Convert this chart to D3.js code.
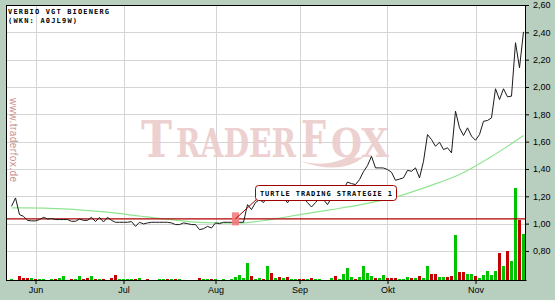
<!DOCTYPE html>
<html>
<head>
<meta charset="utf-8">
<script src="https://cdn.jsdelivr.net/npm/d3@7"></script>
<style>
  body { margin: 0; background: #b8cfbf; }
  svg { display: block; }
</style>
</head>
<body>
<svg id="chart"></svg>
<script>
// daily closes (one per trading day)
const closes = [
    1.127, 1.188, 1.066, 1.053, 1.024, 1.020, 1.020, 1.030, 1.046, 1.034,
    1.037, 1.030, 1.030, 1.030, 1.030, 1.017, 1.017, 1.034, 1.024, 1.024,
    1.046, 1.015, 1.046, 1.012, 1.046, 1.024, 1.010, 1.010, 1.010, 1.010,
    1.015, 0.980, 1.010, 0.998, 1.005, 1.010, 1.010, 1.010, 1.010, 1.010,
    1.005, 0.993, 0.993, 1.005, 1.000, 0.993, 0.993, 0.956, 0.963, 0.980,
    0.968, 1.005, 1.000, 1.010, 1.010, 1.010, 1.010, 1.010, 1.010, 1.139,
    1.103, 1.154, 1.176, 1.154, 1.198, 1.183, 1.227, 1.205, 1.190, 1.152,
    1.198, 1.234, 1.212, 1.190, 1.154, 1.122, 1.154, 1.190, 1.176, 1.139,
    1.190, 1.212, 1.234, 1.249, 1.304, 1.293, 1.286, 1.322, 1.381, 1.425,
    1.493, 1.408, 1.408, 1.407, 1.396, 1.376, 1.317, 1.326, 1.335, 1.390,
    1.383, 1.408, 1.335, 1.456, 1.652, 1.615, 1.566, 1.596, 1.542, 1.555,
    1.518, 1.823, 1.701, 1.645, 1.701, 1.640, 1.610, 1.652, 1.749, 1.755,
    1.774, 1.987, 1.908, 1.987, 1.928, 1.933, 2.324, 2.141, 2.404
];

// volume per day and colour (g = up, r = down)
const volumes = [
    1, 0, 4, 2, 2, 2, 1, 1, 1, 0,
    1, 1, 2, 4, 0, 1, 1, 4, 1, 2,
    4, 1, 1, 1, 0, 2, 5, 1, 1, 1,
    1, 1, 2, 0, 1, 0, 0, 1, 1, 1,
    1, 1, 1, 0, 0, 0, 0, 2, 1, 1,
    1, 1, 0, 1, 0, 1, 3, 5, 2, 17,
    4, 1, 2, 1, 14, 7, 2, 3, 2, 3,
    1, 1, 1, 1, 1, 2, 1, 1, 0, 0,
    2, 4, 1, 6, 12, 3, 1, 3, 14, 7,
    4, 2, 2, 5, 2, 2, 2, 1, 1, 3,
    2, 2, 4, 2, 14, 6, 6, 3, 3, 3,
    4, 45, 8, 8, 6, 6, 4, 2, 5, 9,
    5, 9, 27, 14, 29, 19, 92, 60, 46
];
const volDir = (
    "g-rrrgrgg-" + "grgg-rggrr" + "grgr-rrggg" + "grg-r--ggr" + "grg----rgg" +
    "rg-g-ggggg" + "rggrgrgrgr" + "ggrrgrgg--" + "grggggrggg" + "grggrrrggg" +
    "rgrggrrggr" + "rgrrggrggg" + "ggrgrggrg"
).split('');

// moving average, read at a few days
const maIdx = [0, 8, 16, 24, 32, 40, 48, 56, 64, 72, 80, 88, 96, 104, 112, 120, 128];
const maVal = [1.115, 1.114, 1.103, 1.084, 1.056, 1.029, 1.007, 1.004, 1.026, 1.066,
               1.103, 1.143, 1.194, 1.271, 1.359, 1.491, 1.645];

const monthLabels = ['Jun', 'Jul', 'Aug', 'Sep', 'Okt', 'Nov'];
const monthIdx = [6, 28, 51, 72, 94, 116];
const yTicks = [0.8, 1.0, 1.2, 1.4, 1.6, 1.8, 2.0, 2.2, 2.4, 2.6];

const signalIdx = 56;
const signalLevel = 1.035;
const signalText = 'TURTLE TRADING STRATEGIE 1';
const titleLines = ['VERBIO VGT BIOENERG', '(WKN: A0JL9W)'];

const W = 555, H = 300;
const plot = { left: 6, right: 526, top: 5, bottom: 280 };
const pixelFont = "'DejaVu Sans Mono', monospace";

const svg = d3.select('#chart').attr('width', W).attr('height', H);

svg.append('rect').attr('width', W).attr('height', H).attr('fill', '#b8cfbf');
svg.append('rect')
    .attr('x', plot.left).attr('y', plot.top)
    .attr('width', plot.right - plot.left).attr('height', plot.bottom - plot.top)
    .attr('fill', '#fff');

const x = d3.scaleLinear().domain([-1.375, closes.length - 0.375]).range([plot.left, plot.right]);
const y = d3.scaleLinear().domain([0.5875, 2.6]).range([plot.bottom, plot.top]);
const yVol = d3.scaleLinear().domain([0, 100]).range([plot.bottom, plot.bottom - 100]);

// grid
const grid = svg.append('g').attr('stroke', '#d4d4d4').attr('stroke-width', 1);
grid.selectAll('.hg').data(yTicks).join('line')
    .attr('x1', plot.left).attr('x2', plot.right)
    .attr('y1', d => Math.round(y(d)) + 0.5).attr('y2', d => Math.round(y(d)) + 0.5);
grid.selectAll('.vg').data(monthIdx).join('line')
    .attr('x1', d => Math.round(x(d)) + 0.5).attr('x2', d => Math.round(x(d)) + 0.5)
    .attr('y1', plot.top).attr('y2', plot.bottom);

// traderfox logo watermark, one piece per letter group, squeezed to fit
const logoParts = [
    { t: 'T', x: 141, w: 31, size: 50 },
    { t: 'RADER', x: 176, w: 120, size: 39 },
    { t: 'F', x: 301, w: 25, size: 50 },
    { t: 'OX', x: 331, w: 58, size: 39 }
];
const logo = svg.append('g').attr('fill', '#eccccc').attr('opacity', 0.9);
logo.selectAll('text').data(logoParts).join('text')
    .attr('font-family', "'DejaVu Serif', serif").attr('font-weight', 'bold')
    .attr('font-size', d => d.size)
    .text(d => d.t)
    .each(function (d) {
        const natural = this.getComputedTextLength();
        d3.select(this).attr('transform', `translate(${d.x},157) scale(${d.w / natural},1)`);
    });
logo.append('path')
    .attr('d', 'M300,161 Q332,170 360,150 L354,158 L364,157 Q340,176 300,161 Z');

// url watermark
svg.append('text')
    .attr('transform', 'translate(9.5,98) rotate(90)')
    .attr('font-family', "'Liberation Sans', Arial, sans-serif").attr('font-size', 10)
    .attr('fill', '#c98c8c')
    .attr('textLength', 84).attr('lengthAdjust', 'spacing')
    .text('www.traderfox.de');

// volume
svg.append('g').selectAll('rect')
    .data(volumes.map((v, i) => ({ i, v, dir: volDir[i] })).filter(d => d.v > 0))
    .join('rect')
    .attr('x', d => x(d.i) - 1.5)
    .attr('y', d => yVol(d.v))
    .attr('width', 3)
    .attr('height', d => yVol(0) - yVol(d.v))
    .attr('fill', d => d.dir === 'g' ? '#00c400' : '#c40000');

// moving average
svg.append('path')
    .datum(maIdx.map((d, k) => [d, maVal[k]]))
    .attr('fill', 'none').attr('stroke', '#90e590').attr('stroke-width', 1.2)
    .attr('d', d3.line().x(d => x(d[0])).y(d => y(d[1])).curve(d3.curveMonotoneX));

// breakout level
svg.append('line')
    .attr('x1', plot.left).attr('x2', plot.right)
    .attr('y1', y(signalLevel)).attr('y2', y(signalLevel))
    .attr('stroke', '#b00000').attr('stroke-width', 1.2);

// price
svg.append('path')
    .datum(closes)
    .attr('fill', 'none').attr('stroke', '#1a1a1a').attr('stroke-width', 1)
    .attr('d', d3.line().x((d, i) => x(i)).y(d => y(d)));

// signal marker + label
const sx = x(signalIdx), sy = y(signalLevel);
svg.append('rect')
    .attr('x', sx - 3.5).attr('y', sy - 6.5)
    .attr('width', 7).attr('height', 13)
    .attr('fill', '#f27c7c').attr('opacity', 0.9);

const box = { x: 255.5, y: 185.5, w: 141, h: 15 };
svg.append('line')
    .attr('x1', sx).attr('y1', sy)
    .attr('x2', box.x + 2).attr('y2', box.y + box.h - 2)
    .attr('stroke', '#a00000').attr('stroke-width', 1);
svg.append('rect')
    .attr('x', box.x).attr('y', box.y).attr('width', box.w).attr('height', box.h)
    .attr('rx', 3).attr('fill', '#fff').attr('stroke', '#a00000');
svg.append('text')
    .attr('x', box.x + 4.5).attr('y', box.y + 10.5)
    .attr('font-family', pixelFont).attr('font-weight', 'bold').attr('font-size', 7)
    .attr('textLength', 132).attr('lengthAdjust', 'spacing')
    .text(signalText);

// title
svg.selectAll('.title').data(titleLines).join('text')
    .attr('x', 8).attr('y', (d, i) => 14 + i * 9)
    .attr('font-family', pixelFont).attr('font-weight', 'bold').attr('font-size', 7)
    .attr('textLength', (d, i) => i === 0 ? 101 : 69).attr('lengthAdjust', 'spacing')
    .text(d => d);

// frame
svg.append('rect')
    .attr('x', plot.left + 0.5).attr('y', plot.top + 0.5)
    .attr('width', plot.right - plot.left - 1).attr('height', plot.bottom - plot.top)
    .attr('fill', 'none').attr('stroke', '#000');

// axes
const fmt = d3.formatLocale({ decimal: ',', thousands: '.', grouping: [3], currency: ['', ''] }).format('.2f');
const yAxis = d3.axisRight(y).tickValues(yTicks).tickFormat(fmt)
    .tickSize(4).tickPadding(4).tickSizeOuter(0);
svg.append('g')
    .attr('transform', `translate(${plot.right - 1},0)`)
    .call(yAxis)
    .attr('font-family', "'Liberation Sans', Arial, sans-serif").attr('font-size', 9)
    .call(g => g.selectAll('text').attr('fill', '#000'));

const xAxis = d3.axisBottom(x).tickValues(monthIdx).tickFormat((d, i) => monthLabels[i])
    .tickSize(4).tickPadding(3).tickSizeOuter(0);
svg.append('g')
    .attr('transform', `translate(0,${plot.bottom})`)
    .call(xAxis)
    .attr('font-family', "'Liberation Sans', Arial, sans-serif").attr('font-size', 9)
    .call(g => g.selectAll('text').attr('fill', '#000'));
</script>
</body>
</html>
